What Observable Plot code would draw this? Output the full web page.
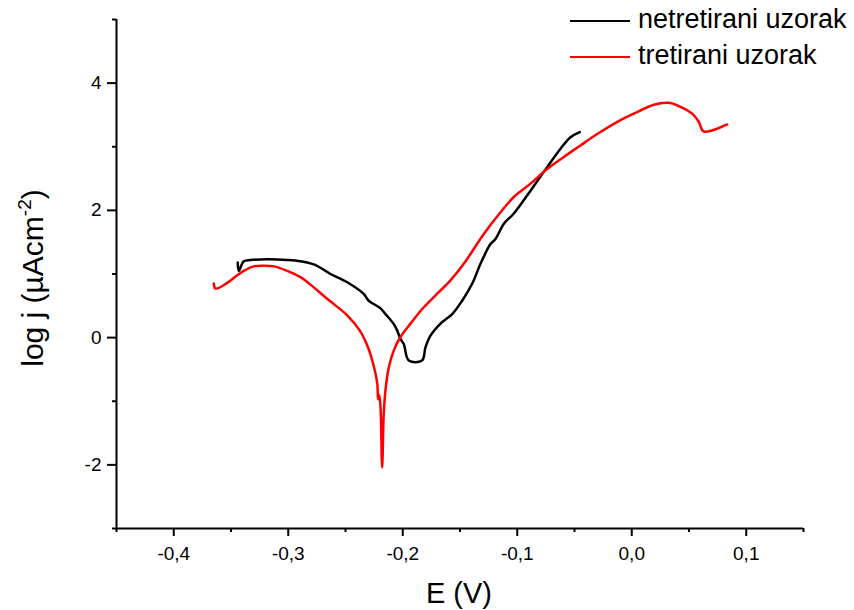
<!DOCTYPE html>
<html><head><meta charset="utf-8">
<script src="https://cdn.jsdelivr.net/npm/d3@7"></script>
<script src="https://cdn.jsdelivr.net/npm/@observablehq/plot@0.6"></script>
<style>
body{margin:0;background:#fff;font-family:"Liberation Sans",Arial,sans-serif;}
#wrap{position:relative;width:854px;height:610px;overflow:hidden;}
.sw{position:absolute;left:570px;width:60px;height:2.5px;}
.lt{position:absolute;left:638px;font-size:27px;line-height:27px;white-space:nowrap;color:#000;}
</style></head><body>
<div id="wrap"></div>
<script>
// Series 1: netretirani uzorak (untreated sample)
const blackE = [-0.3441, -0.3432, -0.3388, -0.3330, -0.3184, -0.3009, -0.2893, -0.2777, -0.2675, -0.2631, -0.2485, -0.2343, -0.2297, -0.2194, -0.2151, -0.2081, -0.2048, -0.2020, -0.1991, -0.1947, -0.1832, -0.1801, -0.1758, -0.1670, -0.1568, -0.1481, -0.1393, -0.1321, -0.1234, -0.1190, -0.1117, -0.1030, -0.0884, -0.0739, -0.0622, -0.0535, -0.0454];
const blackLogJ = [1.18, 1.05, 1.20, 1.22, 1.23, 1.22, 1.20, 1.15, 1.05, 1.00, 0.87, 0.69, 0.58, 0.46, 0.37, 0.22, 0.11, -0.02, -0.10, -0.36, -0.36, -0.15, 0.03, 0.22, 0.37, 0.58, 0.85, 1.16, 1.47, 1.55, 1.79, 1.95, 2.31, 2.68, 2.97, 3.15, 3.23];
// Series 2: tretirani uzorak (treated sample)
const redE = [-0.3650, -0.3635, -0.3533, -0.3446, -0.3388, -0.3301, -0.3214, -0.3126, -0.3009, -0.2893, -0.2777, -0.2660, -0.2485, -0.2375, -0.2304, -0.2250, -0.2222, -0.2215, -0.2205, -0.2194, -0.2180, -0.2166, -0.2151, -0.2122, -0.2078, -0.2020, -0.1932, -0.1830, -0.1699, -0.1583, -0.1467, -0.1292, -0.1146, -0.1030, -0.0884, -0.0739, -0.0593, -0.0448, -0.0302, -0.0098, 0.0018, 0.0193, 0.0324, 0.0411, 0.0528, 0.0586, 0.0629, 0.0833];
const redLogJ = [0.85, 0.77, 0.86, 0.98, 1.05, 1.12, 1.13, 1.12, 1.05, 0.95, 0.79, 0.61, 0.35, 0.11, -0.15, -0.47, -0.73, -0.97, -0.90, -1.10, -2.04, -1.20, -0.83, -0.47, -0.20, 0.01, 0.22, 0.45, 0.69, 0.90, 1.16, 1.63, 1.97, 2.21, 2.42, 2.65, 2.84, 3.02, 3.20, 3.42, 3.52, 3.66, 3.69, 3.64, 3.52, 3.39, 3.24, 3.35];

const seriesNames = ["netretirani uzorak", "tretirani uzorak"];
const seriesColors = ["#000000", "#ff0000"];

const xMajor = [-0.4, -0.3, -0.2, -0.1, 0.0, 0.1];
const xMinor = [-0.45, -0.35, -0.25, -0.15, -0.05, 0.05, 0.15];
const yMajor = [-2, 0, 2, 4];
const yMinor = [-3, -1, 1, 3, 5];
const xDomain = [-0.45, 0.15];
const yDomain = [-3, 5];

const black = blackE.map((e, i) => ({E: e, j: blackLogJ[i]}));
const red = redE.map((e, i) => ({E: e, j: redLogJ[i]}));

const fmtX = d => (Math.abs(d) < 1e-9 ? 0 : d).toFixed(1).replace(".", ",");

const chart = Plot.plot({
  width: 854, height: 610,
  marginTop: 19, marginBottom: 82, marginLeft: 116, marginRight: 51,
  x: {domain: xDomain},
  y: {domain: yDomain},
  style: {fontFamily: "'Liberation Sans', Arial, sans-serif", fontSize: "19px", background: "white", color: "black"},
  marks: [
    Plot.axisX({ticks: xMajor, tickSize: 8, tickPadding: 10, tickFormat: fmtX, label: null, strokeWidth: 2, fontSize: 19}),
    Plot.axisX({ticks: xMinor, tickSize: 4, tickFormat: () => "", label: null, strokeWidth: 2}),
    Plot.axisY({ticks: yMajor, tickSize: 9, tickPadding: 6, tickFormat: d => String(d), label: null, strokeWidth: 2, fontSize: 19}),
    Plot.axisY({ticks: yMinor, tickSize: 4, tickFormat: () => "", label: null, strokeWidth: 2}),
    Plot.ruleY([yDomain[0]], {stroke: "black", strokeWidth: 2}),
    Plot.ruleX([xDomain[0]], {stroke: "black", strokeWidth: 2}),
    Plot.line(black, {x: "E", y: "j", stroke: seriesColors[0], strokeWidth: 2.5, strokeLinejoin: "round", curve: "catmull-rom"}),
    Plot.line(red, {x: "E", y: "j", stroke: seriesColors[1], strokeWidth: 2.5, strokeLinejoin: "round", curve: "catmull-rom"})
  ]
});

const svg = d3.select(chart);
// x axis title
svg.append("text")
  .attr("x", 459).attr("y", 603)
  .attr("text-anchor", "middle")
  .style("font-size", "29px")
  .attr("fill", "black")
  .text("E (V)");
// y axis title with superscript
const yt = svg.append("text")
  .attr("transform", "translate(43,278) rotate(-90)")
  .attr("text-anchor", "middle")
  .style("font-size", "30px")
  .attr("fill", "black");
yt.append("tspan").text("log j (\u00B5Acm");
yt.append("tspan").attr("dy", "-12").style("font-size", "19px").text("-2");
yt.append("tspan").attr("dy", "12").text(")");

const wrap = document.getElementById("wrap");
wrap.appendChild(chart);

// legend
const tops = [[19.5, 6], [55.5, 42]];
seriesNames.forEach((name, i) => {
  const sw = document.createElement("div");
  sw.className = "sw";
  sw.style.top = tops[i][0] + "px";
  sw.style.background = seriesColors[i];
  wrap.appendChild(sw);
  const t = document.createElement("div");
  t.className = "lt";
  t.style.top = tops[i][1] + "px";
  t.textContent = name;
  wrap.appendChild(t);
});
</script>
</body></html>
